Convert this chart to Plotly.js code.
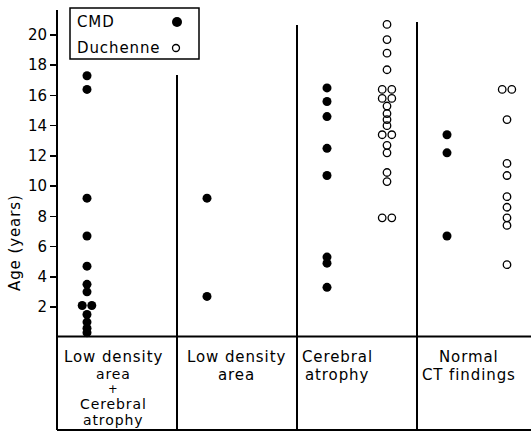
<!DOCTYPE html>
<html><head><meta charset="utf-8">
<script src="https://cdn.plot.ly/plotly-3.0.1.min.js"></script>
<style>html,body{margin:0;padding:0;background:#fff}#chart{width:531px;height:432px}
.annotation-text{letter-spacing:0.9px}</style>
</head><body><div id="chart"></div>
<script>
// ---------- data ----------
const categories = ["Low density area + Cerebral atrophy", "Low density area", "Cerebral atrophy", "Normal CT findings"];
const categoryLines = [
  ["Low density", "area", "+", "Cerebral", "atrophy"],
  ["Low density", "area"],
  ["Cerebral", "atrophy"],
  ["Normal", "CT findings"]
];
const cmdLowDensityAtrophy = [17.3, 16.4, 9.2, 6.7, 4.7, 3.5, 3.0, 2.1, 2.1, 1.5, 1.0, 0.6, 0.3];
const cmdLowDensity = [9.2, 2.7];
const cmdAtrophy = [16.5, 15.6, 14.6, 12.5, 10.7, 5.3, 4.9, 3.3];
const cmdNormal = [13.4, 12.2, 6.7];
const duchenneLowDensityAtrophy = [];
const duchenneLowDensity = [];
const duchenneAtrophy = [20.7, 19.7, 18.8, 17.7, 16.4, 16.4, 15.8, 15.8, 15.3, 14.8, 14.4, 14.0, 13.4, 13.4, 12.7, 12.2, 10.9, 10.3, 7.9, 7.9];
const duchenneNormal = [16.4, 16.4, 14.4, 11.5, 10.7, 9.3, 8.6, 7.9, 7.4, 4.8];
const yTicks = [2, 4, 6, 8, 10, 12, 14, 16, 18, 20];
const seriesNames = ["CMD", "Duchenne"];
const yTitle = "Age (years)";

// ---------- layout geometry ----------
const W = 531, H = 432, L = 57, PW = W - L;
const PX_PER_GROUP = 120, Y0_PX = 337.2, PX_PER_YEAR = 15.11;
const xd = px => 0.5 + (px - L) / PX_PER_GROUP;
const yd = py => (Y0_PX - py) / PX_PER_YEAR;
const xp = px => (px - L) / PW;
const yp = py => 1 - py / H;
const gx = g => L + (g - 0.5) * PX_PER_GROUP; // data x -> px

function spread(vals, center) {
  const counts = {}, seen = {};
  vals.forEach(v => counts[v] = (counts[v] || 0) + 1);
  return vals.map(v => {
    const n = counts[v], k = (seen[v] = (seen[v] || 0) + 1) - 1;
    return center + (k - (n - 1) / 2) * 0.08;
  });
}

const cmdSets = [cmdLowDensityAtrophy, cmdLowDensity, cmdAtrophy, cmdNormal];
const duchSets = [duchenneLowDensityAtrophy, duchenneLowDensity, duchenneAtrophy, duchenneNormal];
const cmdX = [], cmdY = [], duX = [], duY = [];
cmdSets.forEach((s, i) => { cmdX.push(...spread(s, i + 1 - 0.25)); cmdY.push(...s); });
duchSets.forEach((s, i) => { duX.push(...spread(s, i + 1 + 0.25)); duY.push(...s); });

const traces = [
  { x: cmdX, y: cmdY, name: seriesNames[0], type: "scatter", mode: "markers", cliponaxis: false,
    marker: { symbol: "circle", size: 9, color: "#000" } },
  { x: duX, y: duY, name: seriesNames[1], type: "scatter", mode: "markers", cliponaxis: false,
    marker: { symbol: "circle-open", size: 7.5, color: "#000", line: { width: 1.3, color: "#000" } } }
];

const FONT = "DejaVu Sans, Liberation Sans, sans-serif";
const shapes = [];
const line = (x0, y0, x1, y1, w) => shapes.push({ type: "line", xref: "paper", yref: "paper",
  x0: xp(x0), y0: yp(y0), x1: xp(x1), y1: yp(y1), line: { color: "#000", width: w } });

// axis & table frame
line(57, 10, 57, 430, 2);
line(57, 336.5, W, 336.5, 2);
line(57, 430, W, 430, 2);
const dividerTops = [75, 25, 22];
[1.5, 2.5, 3.5].forEach((b, i) => line(gx(b), dividerTops[i], gx(b), 430, 2));

// legend box
shapes.push({ type: "rect", xref: "paper", yref: "paper", x0: xp(70), x1: xp(199), y0: yp(59), y1: yp(8),
  line: { color: "#000", width: 1.5 }, fillcolor: "rgba(0,0,0,0)" });
shapes.push({ type: "circle", xref: "paper", yref: "paper", x0: xp(172), x1: xp(182), y0: yp(27), y1: yp(17),
  line: { color: "#000", width: 0 }, fillcolor: "#000" });
shapes.push({ type: "circle", xref: "paper", yref: "paper", x0: xp(172.5), x1: xp(179.5), y0: yp(51.5), y1: yp(44.5),
  line: { color: "#000", width: 1.3 }, fillcolor: "rgba(0,0,0,0)" });

const annotations = [];
const ann = (text, px, py, xanchor, size, extra) => annotations.push(Object.assign({
  text, xref: "paper", yref: "paper", x: xp(px), y: yp(py), xanchor, yanchor: "middle",
  showarrow: false, borderpad: 0, font: { family: FONT, size, color: "#000" }
}, extra || {}));

ann(seriesNames[0], 76, 22, "left", 15);
ann(seriesNames[1], 76, 48, "left", 15);
ann(yTitle, 15, 243, "center", 15, { textangle: -90 });

const labelShift = [-4, -1, -20, -8];
// row centre (px) and font size for each line of each category label
const rowY = [[357, 374, 389, 404, 420.4], [357, 375], [357, 375], [357, 375]];
const rowSize = [[15, 14, 11.5, 14, 14], [15, 15], [15, 15], [15, 15]];
categoryLines.forEach((lines, g) => {
  lines.forEach((t, r) => ann(t, gx(g + 1) + labelShift[g], rowY[g][r], "center", rowSize[g][r]));
});

const layout = {
  width: W, height: H,
  margin: { l: L, r: 0, t: 0, b: 0 },
  paper_bgcolor: "#fff", plot_bgcolor: "#fff",
  showlegend: false,
  xaxis: { range: [0.5, xd(W)], visible: false, showgrid: false, zeroline: false },
  yaxis: { range: [yd(H), yd(0)], tickmode: "array", tickvals: yTicks, ticktext: yTicks.map(String),
    ticks: "outside", ticklen: 6, tickwidth: 1.5, tickcolor: "#000",
    showgrid: false, zeroline: false, showline: false,
    tickfont: { family: FONT, size: 15, color: "#000" } },
  shapes, annotations
};

Plotly.newPlot("chart", traces, layout, { staticPlot: true, displayModeBar: false });
</script>
</body></html>
